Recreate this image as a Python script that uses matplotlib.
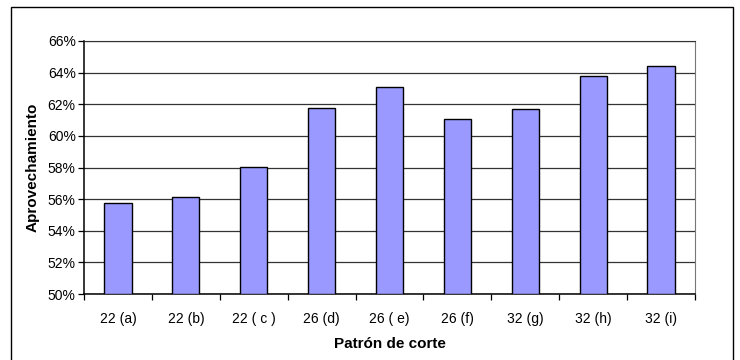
import matplotlib
matplotlib.use("Agg")
import matplotlib.pyplot as plt
from matplotlib.patches import Rectangle
from matplotlib.ticker import FuncFormatter, MultipleLocator

plt.rcParams['font.family'] = ['Liberation Sans', 'DejaVu Sans']

# Cutting patterns and their material utilization (%)
patterns = ["22 (a)", "22 (b)", "22 ( c )", "26 (d)", "26 ( e)",
            "26 (f)", "32 (g)", "32 (h)", "32 (i)"]
utilization = [55.75, 56.12, 58.06, 61.75, 63.08, 61.05, 61.67, 63.8, 64.41]

fig = plt.figure(figsize=(7.4, 3.6), dpi=100)
ax = fig.add_axes([84 / 740, 1 - 294 / 360, (695 - 84) / 740, (294 - 41) / 360])

x = list(range(len(patterns)))
ax.bar(x, [v - 50 for v in utilization], bottom=50, width=0.4,
       color="#9999FF", edgecolor="black", linewidth=1.0, zorder=3)

ax.set_xlim(-0.5, len(patterns) - 0.5)
ax.set_ylim(50, 66)
ax.yaxis.set_major_locator(MultipleLocator(2))
ax.yaxis.set_major_formatter(FuncFormatter(lambda v, _: f"{v:.0f}%"))
ax.grid(axis="y", color="#333333", linewidth=0.9, zorder=0)

ax.set_xticks(x)
ax.set_xticklabels(patterns)
ax.set_xticks([i - 0.5 for i in range(len(patterns) + 1)], minor=True)
ax.tick_params(axis="x", which="major", length=0, pad=13, labelsize=10)
ax.tick_params(axis="x", which="minor", length=4, direction="out", width=0.9)
ax.tick_params(axis="y", length=4, direction="out", width=0.9, labelsize=10, pad=2)

for side in ("left", "bottom"):
    ax.spines[side].set_color("black")
    ax.spines[side].set_linewidth(1.1)
ax.spines["top"].set_color("#333333")
ax.spines["right"].set_color("#777777")

ax.set_xlabel("Patrón de corte", fontsize=11, fontweight="bold", labelpad=8)
ax.set_ylabel("Aprovechamiento", fontsize=11, fontweight="bold", labelpad=6)

# Outer chart frame
fig.patches.append(Rectangle((11 / 740, -0.05), (733 - 11) / 740, 1 - 7 / 360 + 0.05,
                             transform=fig.transFigure, fill=False,
                             edgecolor="black", linewidth=1.0))

fig.savefig("out.png", dpi=100, facecolor="white")
